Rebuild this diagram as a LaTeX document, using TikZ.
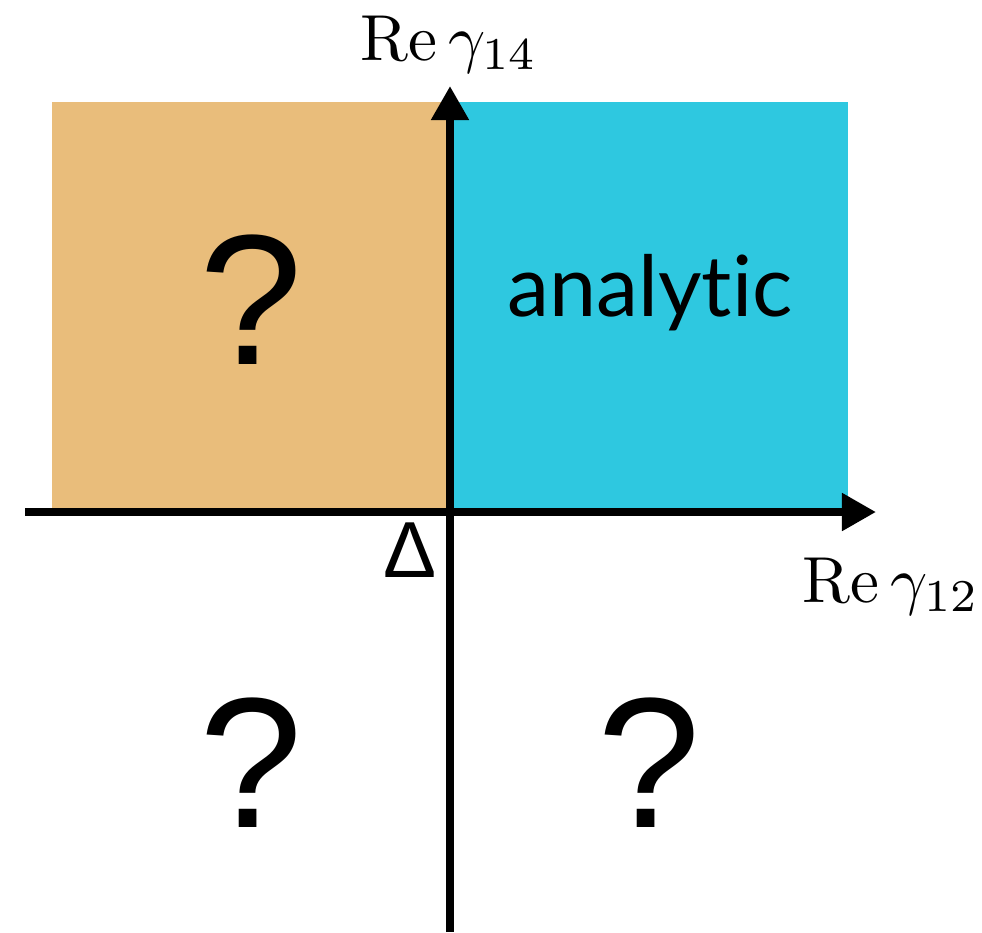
\documentclass[tikz,border=0pt]{standalone}
\usepackage{fontspec}
\newfontfamily\qfont{Liberation Sans}
\newfontfamily\regionfont[Ligatures=NoCommon]{Lato}
\usetikzlibrary{arrows.meta}
\definecolor{regionorange}{RGB}{233,189,123}
\definecolor{regioncyan}{RGB}{46,200,224}

\begin{document}
\begin{tikzpicture}[x=0.01cm, y=-0.01cm,
    axis/.style={line width=0.08cm, -{Triangle[length=0.34cm, width=0.36cm]}},
    qmark/.style={inner sep=0pt, scale=5.28, font=\qfont},
    axlabel/.style={inner sep=0pt, anchor=base, scale=1.85}]
    \useasboundingbox (0,0) rectangle (982,932);

    % Shade the two upper quadrants
    \fill[regionorange] (52,102) rectangle (450,508);
    \fill[regioncyan] (450,102) rectangle (848,508);

    % Axis end points
    \coordinate (xstart) at (25,512);
    \coordinate (xend) at (876,512);
    \coordinate (ystart) at (450,932);
    \coordinate (yend) at (450,86);

    % Axes
    \draw[axis] (xstart) -- (xend);
    \draw[axis] (ystart) -- (yend);

    % Labels
    \node[axlabel] (relab14) at (449,60) {$\mathrm{Re}\,\gamma_{14}$};
    \node[axlabel] (relab12) at (891,602) {$\mathrm{Re}\,\gamma_{12}$};
    \node[inner sep=0pt, scale=2.26, font=\qfont] (origin) at (410,550) {Δ};
    \node[inner sep=0pt, anchor=base, scale=2.4, font=\regionfont] (analytic) at (650,316) {analytic};
    \node[qmark] (qtl) at (251,300) {?};
    \node[qmark] (qbl) at (251,763) {?};
    \node[qmark] (qbr) at (649,763) {?};
\end{tikzpicture}
\end{document}
